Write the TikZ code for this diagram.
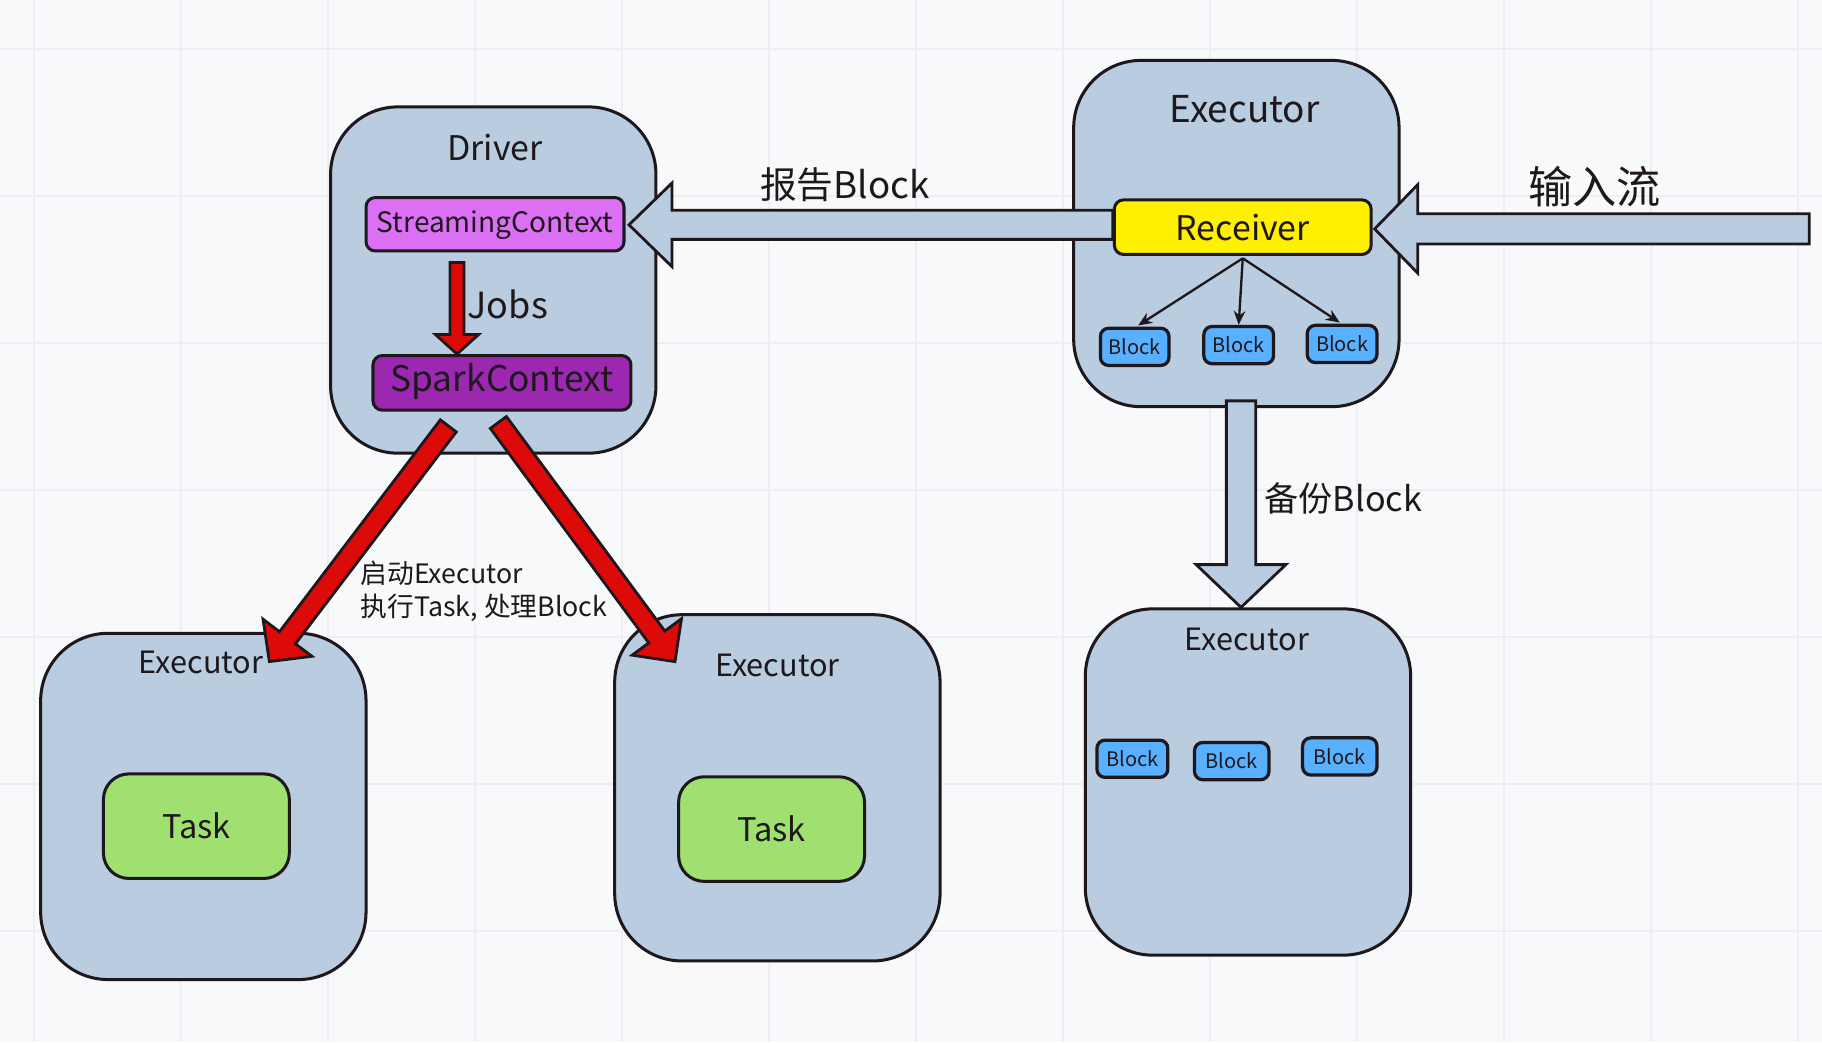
\documentclass[tikz,border=0pt]{standalone}
\usepackage{fontspec}
\setmainfont{Noto Sans CJK SC}
\usetikzlibrary{calc,arrows.meta}
\definecolor{bgc}{RGB}{248,249,251}
\definecolor{gridc}{RGB}{236,238,241}
\definecolor{boxc}{RGB}{185,204,224}
\definecolor{edgec}{RGB}{30,24,28}
\definecolor{txtc}{RGB}{30,24,28}
\definecolor{scc}{RGB}{220,112,245}
\definecolor{spc}{RGB}{156,39,176}
\definecolor{recc}{RGB}{255,240,0}
\definecolor{blkc}{RGB}{88,176,255}
\definecolor{taskc}{RGB}{160,224,112}
\definecolor{redc}{RGB}{221,10,10}
% block arrow: #1 style, #2 start, #3 tip, #4 shaft half width, #5 head half width, #6 head length
\newcommand\blkarrow[6]{%
  \coordinate (baP) at ($(#3)!#6!(#2)$);
  \draw[#1] ($(#2)!#4!90:(#3)$) -- ($(baP)!#4!90:(#3)$) -- ($(baP)!#5!90:(#3)$) -- (#3)
    -- ($(baP)!#5!-90:(#3)$) -- ($(baP)!#4!-90:(#3)$) -- ($(#2)!#4!-90:(#3)$) -- cycle;}
\begin{document}
\begin{tikzpicture}[x=0.5pt,y=-0.5pt,
  bigbox/.style={draw=edgec, fill=boxc, line width=1.3pt, rounded corners=29pt,
    minimum width=140pt, minimum height=149pt, inner sep=0pt},
  inbox/.style={draw=edgec, line width=1.3pt, rounded corners=4pt, inner sep=0pt, text=txtc},
  blk/.style={draw=edgec, fill=blkc, line width=1.4pt, rounded corners=3.5pt, inner sep=0pt,
    minimum height=16pt, text=txtc, font=\fontsize{8.6}{10}\selectfont},
  tsk/.style={draw=edgec, fill=taskc, line width=1.3pt, rounded corners=11pt, inner sep=0pt,
    minimum width=80pt, minimum height=45pt, text=txtc, font=\fontsize{14}{17}\selectfont},
  lbl/.style={text=txtc, inner sep=0pt},
  bluearrow/.style={draw=edgec, fill=boxc, line width=1.2pt, line join=miter},
  redarrow/.style={draw=edgec, fill=redc, line width=1.2pt, line join=miter},
  thinarr/.style={draw=edgec, line width=1pt, -{Stealth[length=6pt,width=5pt]}}
]
\fill[bgc] (0,0) rectangle (1568,897);
\useasboundingbox (0,0) rectangle (1568,897);
\foreach \i in {0,...,12} \draw[gridc,line width=0.7pt] ({29.3+126.5*\i},0) -- ({29.3+126.5*\i},897);
\foreach \j in {0,...,6} \draw[gridc,line width=0.7pt] (0,{42.2+126.5*\j}) -- (1568,{42.2+126.5*\j});

% big boxes
\node[bigbox] (drv) at (424.5,241) {};
\node[bigbox] (etr) at (1064,201) {};
\node[bigbox] (ebl) at (175,694) {};
\node[bigbox] (ebm) at (669,678) {};
\node[bigbox] (ebr) at (1074,673) {};

% titles
\node[lbl, font=\fontsize{14.6}{17}\selectfont] (drvT) at (426,127) {Driver};
\node[lbl, font=\fontsize{15.9}{19}\selectfont] (etrT) at (1071,94) {Executor};
\node[lbl, font=\fontsize{13.2}{16}\selectfont] (eblT) at (173,570) {Executor};
\node[lbl, font=\fontsize{13.2}{16}\selectfont] (ebmT) at (669,573) {Executor};
\node[lbl, font=\fontsize{13.2}{16}\selectfont] (ebrT) at (1073,550) {Executor};

% inner nodes
\node[inbox, fill=scc, minimum width=111pt, minimum height=23pt, text height=0.74em, text depth=0.03em, font=\fontsize{12.1}{14}\selectfont] (sc) at (426,193) {StreamingContext};
\node[inbox, fill=spc, minimum width=111pt, minimum height=23.5pt, text height=0.74em, text depth=0.03em, font=\fontsize{15.2}{18}\selectfont] (spark) at (432,329.5) {SparkContext};
\node[inbox, fill=recc, minimum width=110.5pt, minimum height=23.5pt, font=\fontsize{14.6}{17}\selectfont] (recv) at (1069.5,195.5) {Receiver};

\node[blk, minimum width=29.5pt] (b1) at (976.5,298.5) {Block};
\node[blk, minimum width=30pt] (b2) at (1066,297) {Block};
\node[blk, minimum width=30pt] (b3) at (1155,296) {Block};
\node[blk, minimum width=30.5pt] (c1) at (974.5,653) {Block};
\node[blk, minimum width=32pt] (c2) at (1060,655) {Block};
\node[blk, minimum width=32pt] (c3) at (1153,651) {Block};

\node[tsk] (t1) at (169,711) {Task};
\node[tsk] (t2) at (664,713.5) {Task};

% block arrows
\coordinate (repTip) at ($(sc.east)+(3,0.5)$);
\coordinate (repStart) at (recv.west |- repTip);
\blkarrow{bluearrow}{repStart}{repTip}{6.25pt}{18pt}{18.5pt}
\node[lbl, font=\fontsize{15.8}{19}\selectfont] (repL) at (727,159) {报告Block};

\coordinate (inStart) at (1557,197);
\coordinate (inTip) at (1183,197);
\blkarrow{bluearrow}{inStart}{inTip}{6.5pt}{19pt}{18.5pt}
\node[lbl, font=\fontsize{19}{22}\selectfont] (inL) at (1372,161) {输入流};

\coordinate (bkStart) at (1068,345);
\coordinate (bkTip) at (ebr.north -| bkStart);
\blkarrow{bluearrow}{bkStart}{bkTip}{6.3pt}{19.3pt}{18.4pt}
\node[lbl, font=\fontsize{14.7}{18}\selectfont] (bkL) at (1156,429) {备份Block};

\coordinate (jobStart) at (393.3,226);
\coordinate (jobTip) at (spark.north -| jobStart);
\blkarrow{redarrow}{jobStart}{jobTip}{3pt}{9.3pt}{8.4pt}
\node[lbl, font=\fontsize{15.5}{18}\selectfont] (jobL) at (437,262) {Jobs};

\coordinate (rlStart) at (385.8,366.5);
\coordinate (rlTip) at (231.8,569.4);
\blkarrow{redarrow}{rlStart}{rlTip}{4.3pt}{13.2pt}{12.9pt}
\coordinate (rrStart) at (428.9,363.6);
\coordinate (rrTip) at (580.9,569.4);
\blkarrow{redarrow}{rrStart}{rrTip}{4.3pt}{13.2pt}{13.2pt}
\node[lbl, anchor=west, align=left, font=\fontsize{11.5}{14}\selectfont] (runL) at (310,509) {启动Executor\\执行Task, 处理Block};

% receiver to blocks
\coordinate (rb) at ($(recv.south)+(0,2)$);
\draw[thinarr] (rb) -- ($(b1.north)+(3,-1)$);
\draw[thinarr] (rb) -- (b2.north);
\draw[thinarr] (rb) -- ($(b3.north)+(-2,-1)$);
\end{tikzpicture}
\end{document}
